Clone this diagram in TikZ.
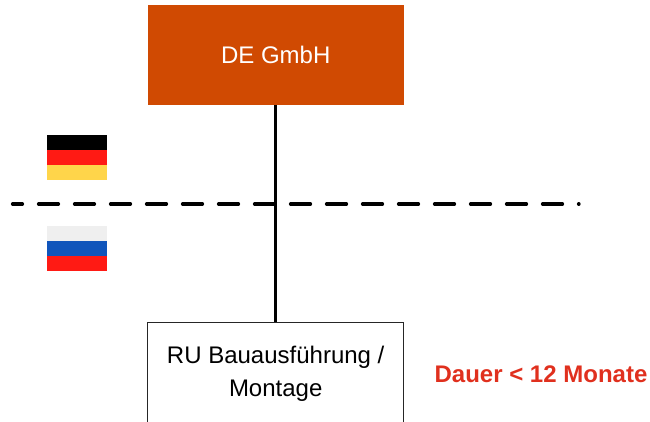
\documentclass[tikz,border=0pt]{standalone}
\usepackage{fontspec}
\usepackage{tikz}
\usetikzlibrary{positioning}
\setmainfont{Liberation Sans}
\definecolor{deorange}{HTML}{D04A02}
\definecolor{dauerred}{HTML}{E0301E}
\definecolor{flagred}{HTML}{FF1A14}
\definecolor{flaggold}{HTML}{FFD54A}
\definecolor{flagblue}{HTML}{1055BB}
\definecolor{flagwhite}{HTML}{EFEFEF}
\tikzset{box/.style = {minimum width = 256pt, inner sep = 0, outer sep = 0, align = center, font = \fontsize{24}{33}\selectfont}}
\tikzset{stripe/.style = {fill = #1, minimum width = 60pt, minimum height = 15pt, inner sep = 0, outer sep = 0}}
\tikzset{link/.style = {line width = 3.2pt}}

\begin{document}
\begin{tikzpicture}[x=1pt, y=-1pt]
      \useasboundingbox (0, 0) rectangle (650, 421);
      \clip (0, 0) rectangle (650, 421);

      \node (de) [box, fill=deorange, text=white, minimum height=100pt] at (275.7, 55) {DE GmbH};
      \node (ru) [box, draw=black!85, line width=0.8pt, minimum height=104pt, below=217pt of de.south, anchor=north] {RU Bauausführung /\\Montage};
      \node (dauer) [text=dauerred, font=\fontsize{24}{28}\bfseries\selectfont, inner sep=0] at (541, 374) {Dauer < 12 Monate};

      % border between the two countries
      \coordinate (borderleft) at (12.5, 204);
      \coordinate (borderright) at (579, 204);
      \draw [link, line cap=round, dash pattern=on 20pt off 16pt, dash phase=10pt] (borderleft) -- (borderright);
      \draw [link] (de.south) -- (ru.north);

      \node (deblack) [stripe=black] at (77, 142) {};
      \node (dered) [stripe=flagred, below=0pt of deblack] {};
      \node (degold) [stripe=flaggold, below=0pt of dered] {};

      \node (ruwhite) [stripe=flagwhite] at (77, 233) {};
      \node (rublue) [stripe=flagblue, below=0pt of ruwhite] {};
      \node (rured) [stripe=flagred, below=0pt of rublue] {};
    \end{tikzpicture}
\end{document}
